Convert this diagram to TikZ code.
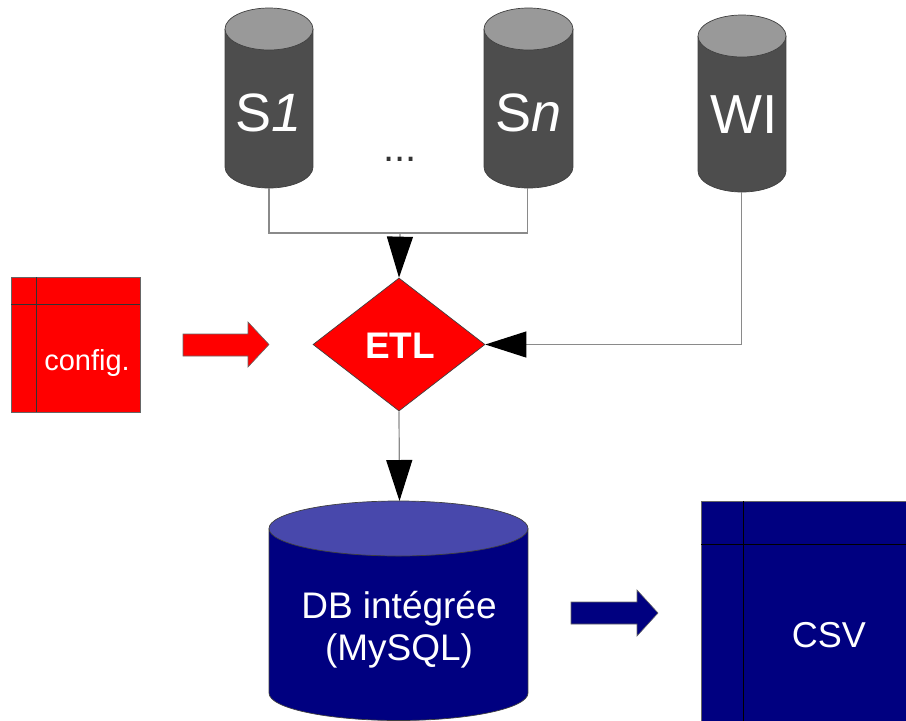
\documentclass[tikz,border=0pt]{standalone}
\usepackage{fontspec}
\setmainfont{Liberation Sans}
\usetikzlibrary{arrows.meta,shapes.geometric}
\definecolor{cylbody}{HTML}{4D4D4D}
\definecolor{cyltop}{HTML}{999999}
\definecolor{navybody}{HTML}{000080}
\definecolor{navytop}{HTML}{4848AC}
\definecolor{linegray}{HTML}{8A8A8A}
\definecolor{pureRed}{HTML}{FF0000}
% #1 cx, #2 rx, #3 y of top ellipse centre, #4 y of bottom ellipse centre, #5 ry, #6 body colour, #7 top colour
\newcommand{\mycylinder}[7]{%
  \fill[#6] (#1-#2,#3) rectangle (#1+#2,#4);
  \fill[#6] (#1,#4) ellipse[x radius=#2, y radius=#5];
  \draw[outline] (#1-#2,#3) -- (#1-#2,#4) arc[start angle=180, end angle=0, x radius=#2, y radius=#5] -- (#1+#2,#3);
  \filldraw[outline, fill=#7] (#1,#3) ellipse[x radius=#2, y radius=#5];
}
\tikzset{
  outline/.style={draw=black!75, line width=0.7pt},
  conn/.style={draw=linegray, line width=1.2pt},
  bigtip/.style={-{Triangle[length=41pt, width=26pt, color=black]}},
  cyltext/.style={text=white, font=\fontsize{54}{60}\selectfont, inner sep=0pt, anchor=base},
  boxtext/.style={text=white, font=\fontsize{37}{42}\selectfont, inner sep=0pt, anchor=base, align=center},
}
\begin{document}
\begin{tikzpicture}[x=1pt, y=-1pt]
\useasboundingbox (0,0) rectangle (906,721);
% source cylinders
\mycylinder{269}{44}{29}{167}{21}{cylbody}{cyltop}
\mycylinder{528.5}{44.5}{29}{167}{21}{cylbody}{cyltop}
\mycylinder{742}{44}{36}{171}{21}{cylbody}{cyltop}
\node[cyltext] (s1) at (269,131) {S\textit{1}};
\node[cyltext] (sn) at (529,131) {S\textit{n}};
\node[cyltext, font=\fontsize{55}{60}\selectfont] (wi) at (744,133) {WI};
\node[inner sep=0pt, anchor=base, text=black!80, font=\fontsize{40}{44}\selectfont] (dots) at (400,161) {...};
\coordinate (s1b) at (269,188);
\coordinate (snb) at (527.5,188);
\coordinate (wib) at (741.5,192);
\coordinate (join) at (400,233);
% ETL
\node[diamond, fill=pureRed, draw=black!75, line width=0.7pt, inner sep=0pt,
      minimum width=172pt, minimum height=133pt] (etl) at (399,344.5) {};
\node[text=white, font=\fontsize{37}{42}\selectfont\bfseries, inner sep=0pt, anchor=base] (etltext) at (400,358) {ETL};
% connectors
\draw[conn] (s1b) -- (s1b |- join) -- (snb |- join) -- (snb);
\draw[conn, bigtip] (join) -- (etl.north);
\draw[conn, bigtip] (wib) |- (etl.east);
% DB cylinder
\mycylinder{398.5}{129.5}{528.5}{693}{27.5}{navybody}{navytop}
\coordinate (dbtop) at (399.5,501);
\node[boxtext] (db1) at (399,618) {DB intégrée};
\node[boxtext] (db2) at (399,660) {(MySQL)};
\draw[conn, bigtip] (etl.south) -- (dbtop);
% config box
\node[fill=pureRed, draw=black!60, line width=0.7pt, minimum width=129pt, minimum height=135pt, inner sep=0pt] (config) at (75.5,344.5) {};
\draw[black!80, line width=0.8pt] (36,277) -- (36,412);
\draw[black!80, line width=0.8pt] (11,304) -- (140,304);
\node[text=white, font=\fontsize{29}{34}\selectfont, inner sep=0pt, anchor=base] (configtext) at (87,370) {config.};
% red block arrow
\filldraw[fill=pureRed, draw=black!60, line width=0.6pt] (183,334) -- (248,334) -- (248,322) -- (269,344.5) -- (248,367) -- (248,356) -- (183,356) -- cycle;
% CSV box
\node[fill=navybody, draw=black!60, line width=0.7pt, minimum width=210pt, minimum height=225pt, inner sep=0pt, anchor=north west] (csv) at (701,501) {};
\draw[black, line width=1pt] (743,501) -- (743,721);
\draw[black, line width=1pt] (701,544) -- (906,544);
\node[boxtext, font=\fontsize{36}{42}\selectfont] (csvtext) at (829,647) {CSV};
% blue block arrow
\filldraw[fill=navybody, draw=black!60, line width=0.6pt] (571,602) -- (637,602) -- (637,590) -- (658,613) -- (637,636) -- (637,624) -- (571,624) -- cycle;
\end{tikzpicture}
\end{document}
